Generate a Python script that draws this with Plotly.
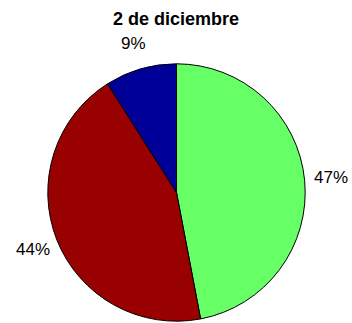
import math
import plotly.graph_objects as go

labels = ["A", "B", "C"]
values = [47, 44, 9]
colors = ["#66FF66", "#990000", "#000099"]
title_text = "2 de diciembre"

W, H = 352, 323
cx, cy, r = 176.5, 192.5, 128.7   # pie centre / radius in pixels (from top-left)
label_gap = 26                      # distance of percentage labels outside the rim
font_family = "Liberation Sans, Arial, sans-serif"

y0 = max(0.0, (H - cy - r) / H)
y1 = min(1.0, (H - cy + r) / H)

fig = go.Figure(go.Pie(
    labels=labels,
    values=values,
    sort=False,
    direction="clockwise",
    rotation=0,
    marker=dict(colors=colors, line=dict(color="black", width=1)),
    textinfo="none",
    hoverinfo="label+percent",
    showlegend=False,
    domain=dict(x=[(cx - r) / W, (cx + r) / W], y=[y0, y1]),
))

# percentage labels placed outside each slice, at the slice's middle angle
total = sum(values)
start = 0.0
annotations = []
for v in values:
    mid = (start + v / 2) / total * 2 * math.pi   # clockwise from 12 o'clock
    start += v
    rr = r + label_gap
    px = cx + rr * math.sin(mid)
    py = cy - rr * math.cos(mid)
    annotations.append(dict(
        x=px / W, y=1 - py / H, xref="paper", yref="paper",
        text=f"{round(100 * v / total)}%", showarrow=False,
        xanchor="center", yanchor="middle",
        font=dict(family=font_family, size=17, color="black"),
    ))

fig.update_layout(
    width=W, height=H,
    margin=dict(l=0, r=0, t=0, b=0),
    paper_bgcolor="white",
    plot_bgcolor="white",
    annotations=annotations,
    title=dict(
        text="<b>" + title_text + "</b>",
        x=0.5, xanchor="center", y=1 - 19 / H, yanchor="middle",
        font=dict(family=font_family, size=18, color="black"),
    ),
)

fig.write_html("out.html")
